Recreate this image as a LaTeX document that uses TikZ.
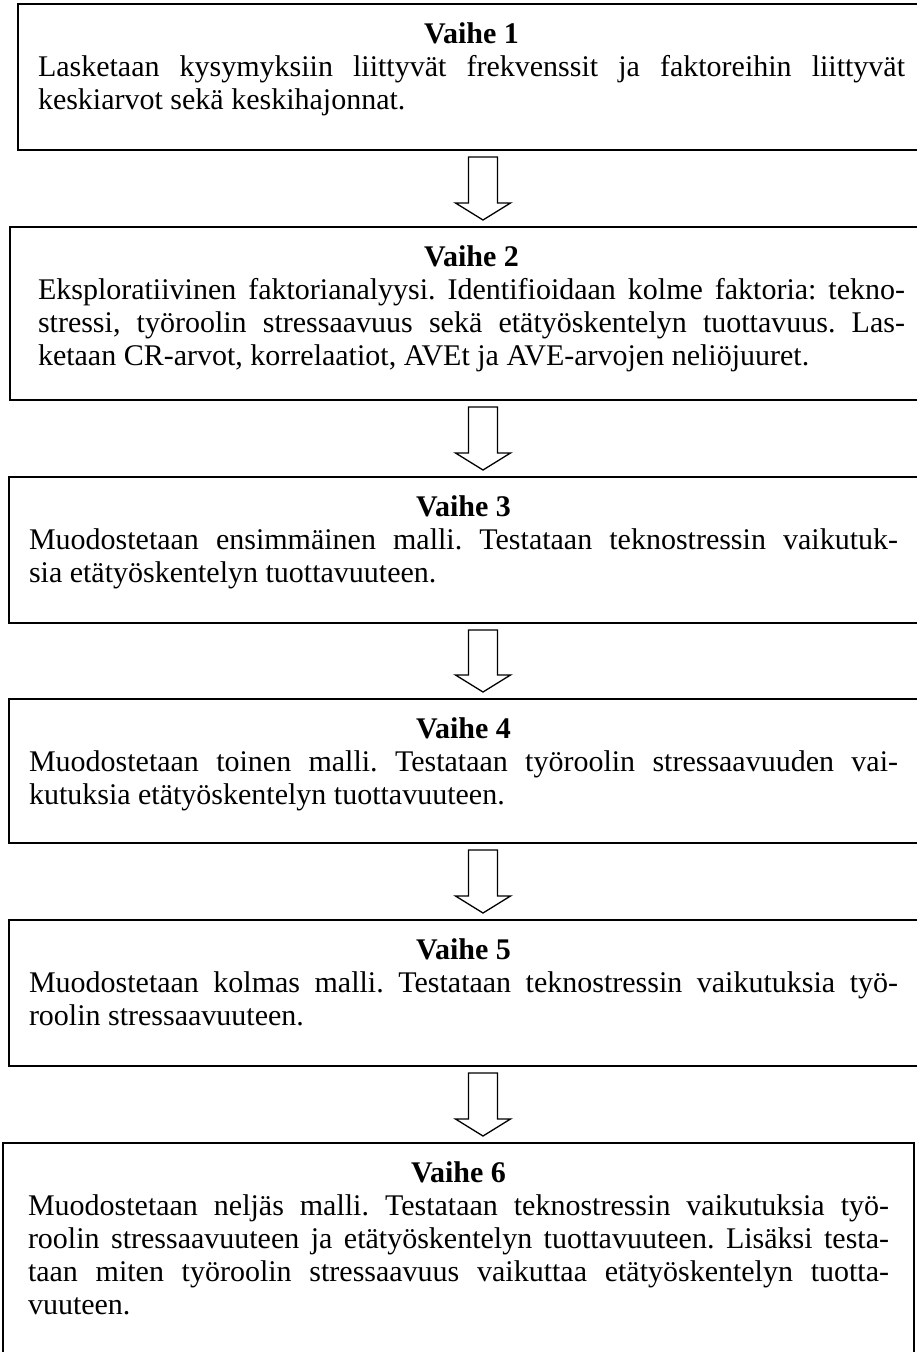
\documentclass[tikz,border=0pt]{standalone}
\usepackage{fontspec}
\setmainfont{Liberation Serif}
\usetikzlibrary{calc}

\tikzset{
  stepbox/.style={draw=black, line width=2pt, inner ysep=0pt, outer sep=0pt, anchor=north west},
  blockarrow/.style={draw=black, line width=1.3pt, line join=miter, fill=white},
}

% one fully justified line of a paragraph
\newcommand\jl[1]{\makebox[\linewidth][s]{#1}\par}
% centred bold heading of a phase box
\newcommand\vtitle[1]{\vspace*{19pt}{\centering\textbf{#1}\par}}
% phase box: name, left, top, text width, height, side padding, content
\newcommand\vaihebox[7]{%
  \node[stepbox, inner xsep=#6pt] (#1) at (#2,#3)
    {\parbox[c][#5pt][t]{#4pt}{\frenchspacing\fontsize{30pt}{33pt}\selectfont #7}};}
% hollow block arrow from the bottom of one box to the top of the next
\newcommand\blockarrow[2]{%
  \draw[blockarrow] let \p1=(#1.south -| ax), \p2=(#2.north -| ax) in
    (\x1-14.5pt,\y1-7pt) -- (\x1+14.5pt,\y1-7pt) -- (\x1+14.5pt,\y2+24pt)
    -- (\x1+27.5pt,\y2+24pt) -- (\x1,\y2+7pt) -- (\x1-27.5pt,\y2+24pt)
    -- (\x1-14.5pt,\y2+24pt) -- cycle;}

\begin{document}
\begin{tikzpicture}[x=1pt,y=-1pt]
\clip (0,0) rectangle (917,1352);
\fill[white] (0,0) rectangle (917,1352);
\coordinate (ax) at (483,0);

\vaihebox{v1}{18}{4}{867}{146}{20}{%
  \vtitle{Vaihe 1}
  \jl{Lasketaan kysymyksiin liittyvät frekvenssit ja faktoreihin liittyvät}
  keskiarvot sekä keskihajonnat.\par}

\vaihebox{v2}{10}{227}{867}{173}{28}{%
  \vtitle{Vaihe 2}
  \jl{Eksploratiivinen faktorianalyysi. Identifioidaan kolme faktoria: tekno-}
  \jl{stressi, työroolin stressaavuus sekä etätyöskentelyn tuottavuus. Las-}
  ketaan CR-arvot, korrelaatiot, AVEt ja AVE-arvojen neliöjuuret.\par}

\vaihebox{v3}{9}{477}{869}{146}{20}{%
  \vtitle{Vaihe 3}
  \jl{Muodostetaan ensimmäinen malli. Testataan teknostressin vaikutuk-}
  sia etätyöskentelyn tuottavuuteen.\par}

\vaihebox{v4}{9}{699}{869}{144}{20}{%
  \vtitle{Vaihe 4}
  \jl{Muodostetaan toinen malli. Testataan työroolin stressaavuuden vai-}
  kutuksia etätyöskentelyn tuottavuuteen.\par}

\vaihebox{v5}{9}{920}{869}{146}{20}{%
  \vtitle{Vaihe 5}
  \jl{Muodostetaan kolmas malli. Testataan teknostressin vaikutuksia työ-}
  roolin stressaavuuteen.\par}

\vaihebox{v6}{3}{1143}{861}{220}{25}{%
  \vtitle{Vaihe 6}
  \jl{Muodostetaan neljäs malli. Testataan teknostressin vaikutuksia työ-}
  \jl{roolin stressaavuuteen ja etätyöskentelyn tuottavuuteen. Lisäksi testa-}
  \jl{taan miten työroolin stressaavuus vaikuttaa etätyöskentelyn tuotta-}
  vuuteen.\par}

\blockarrow{v1}{v2}
\blockarrow{v2}{v3}
\blockarrow{v3}{v4}
\blockarrow{v4}{v5}
\blockarrow{v5}{v6}
\end{tikzpicture}
\end{document}
